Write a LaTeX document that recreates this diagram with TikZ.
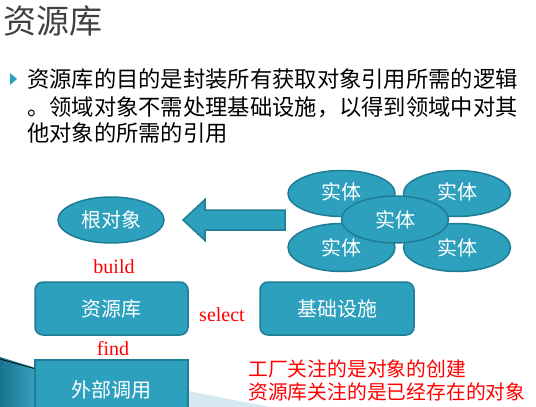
\documentclass[tikz,border=0pt]{standalone}
\usepackage{fontspec}
\usetikzlibrary{shapes.geometric}
\setmainfont{Liberation Serif}
\newfontfamily\cjk{Noto Sans CJK SC}
\definecolor{tealfill}{HTML}{2CA0BD}
\definecolor{tealline}{HTML}{1F7C95}
\definecolor{titlegray}{HTML}{404040}
\definecolor{swdark}{HTML}{17748F}
\definecolor{swlight}{HTML}{3AA3BF}
\definecolor{paleblue}{HTML}{D6E9F0}
\begin{document}
\begin{tikzpicture}[x=1pt,y=-1pt,
  shapetext/.style={text=white,font=\cjk\fontsize{20}{24}\selectfont},
  ent/.style={ellipse,draw=tealline,fill=tealfill,line width=1.5pt,minimum width=107pt,minimum height=46pt,inner sep=0pt,shapetext},
  rbox/.style={rectangle,rounded corners=8pt,draw=tealline,fill=tealfill,line width=1.5pt,minimum width=153pt,minimum height=53pt,inner sep=0pt,shapetext},
  sbox/.style={rectangle,draw=tealline,fill=tealfill,line width=1.5pt,minimum width=153pt,minimum height=53pt,inner sep=0pt,shapetext},
  redlat/.style={text=red,font=\fontsize{20}{24}\selectfont,inner sep=0pt},
  redcjk/.style={text=red,font=\cjk\fontsize{19.8}{24}\selectfont,inner sep=0pt,anchor=west},
  body/.style={font=\cjk\fontsize{22.3}{26}\selectfont,inner sep=0pt,anchor=west,text=black}]
\useasboundingbox (0,0) rectangle (536,407);
\clip (0,0) rectangle (536,407);
% background swoosh
\fill[paleblue] (188,391) -- (270,407) -- (188,407) -- cycle;
\shade[left color=swdark,right color=swlight] (0,357) -- (36,368) -- (36,407) -- (0,407) -- cycle;
\draw[black,line width=0.8pt] (0,359) -- (36,369);
% title
\node[anchor=west,inner sep=0pt,text=titlegray,font=\cjk\fontsize{33}{36}\selectfont] (title) at (3,21) {资源库};
% bullet
\fill[tealfill] (10,73) -- (17,79) -- (10,85) -- cycle;
\node[body] (l1) at (27,79) {资源库的目的是封装所有获取对象引用所需的逻辑};
\node[body] (l2) at (27,107) {。领域对象不需处理基础设施，以得到领域中对其};
\node[body] (l3) at (27,133) {他对象的所需的引用};
% root object
\node[ent,minimum width=106pt] (root) at (111,220) {根对象};
% big arrow
\coordinate (tip) at (183,220);
\filldraw[fill=tealfill,draw=tealline,line width=1.5pt]
  (tip) -- (205,199.5) -- (205,210) -- (285,210) -- (285,230) -- (205,230) -- (205,240.5) -- cycle;
% entities
\node[ent] (e1) at (341.5,193.5) {\raisebox{4pt}{实体}};
\node[ent] (e2) at (457,193.5) {\raisebox{4pt}{实体}};
\node[ent,minimum height=48pt] (e3) at (341.5,247.5) {\raisebox{-3pt}{实体}};
\node[ent,minimum height=48pt] (e4) at (457,247.5) {\raisebox{-3pt}{实体}};
\node[ent,minimum height=47pt] (e5) at (395,219.5) {实体};
% boxes
\node[redlat] (build) at (114,267) {build};
\node[rbox] (repo) at (111.5,308.5) {资源库};
\node[redlat] (select) at (222,315) {select};
\node[rbox,minimum width=154pt] (infra) at (337,308.5) {基础设施};
\node[redlat] (find) at (113,349) {find};
\node[sbox,minimum height=60pt,anchor=north] (ext) at (111.5,359) {\raisebox{-10pt}{外部调用}};
% notes
\node[redcjk] (n1) at (248,369) {工厂关注的是对象的创建};
\node[redcjk] (n2) at (248,392) {资源库关注的是已经存在的对象};
\end{tikzpicture}
\end{document}
